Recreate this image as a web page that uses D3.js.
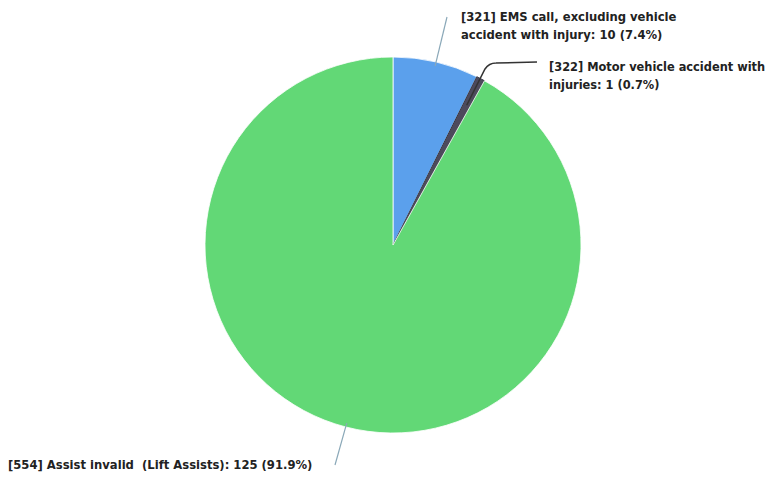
<!DOCTYPE html>
<html>
<head>
<meta charset="utf-8">
<script src="https://cdn.jsdelivr.net/npm/d3@7"></script>
<style>
  html, body { margin: 0; padding: 0; background: #ffffff; }
  svg { display: block; }
  text { font-family: "DejaVu Sans", sans-serif; font-weight: bold; font-size: 11.6px; fill: #222; white-space: pre; }
  text.tight { font-size: 11.4px; }
</style>
</head>
<body>
<svg id="chart" width="770" height="482"></svg>
<script>
const codes = ["[321]", "[322]", "[554]"];
const names = ["EMS call, excluding vehicle accident with injury", "Motor vehicle accident with injuries", "Assist invalid  (Lift Assists)"];
const values = [10, 1, 125];
const colors = ["#5ba0ec", "#4d4a5c", "#62d876"];
const lineColors = ["#8aa8b8", "#333333", "#8aa8b8"];

const svg = d3.select("#chart");
const cx = 393, cy = 245, r = 188;
const data = values.map((v, i) => ({ code: codes[i], name: names[i], value: v, i }));

const pie = d3.pie().value(d => d.value).sort(null);
const arcs = pie(data);
const arc = d3.arc().innerRadius(0).outerRadius(r);

const g = svg.append("g").attr("transform", `translate(${cx},${cy})`);
g.selectAll("path.slice").data(arcs).enter().append("path")
  .attr("class", "slice")
  .attr("d", arc)
  .attr("fill", d => colors[d.data.i])
  .attr("stroke", d => d.data.i === 1 ? "#3a3a48" : "#ffffff")
  .attr("stroke-width", d => d.data.i === 1 ? 1 : 0.8);

const labelLines = [
  ["[321] EMS call, excluding vehicle", "accident with injury: 10 (7.4%)"],
  ["[322] Motor vehicle accident with", "injuries: 1 (0.7%)"],
  ["[554] Assist invalid  (Lift Assists): 125 (91.9%)"]
];
const labelPos = [[461, 21], [549, 71], [8, 469]];

function pt(a, rad) { return [Math.sin(a) * rad, -Math.cos(a) * rad]; }

arcs.forEach((d, k) => {
  const mid = (d.startAngle + d.endAngle) / 2;
  const p0 = pt(mid, r - (k === 1 ? 30 : 4));
  const path = d3.path();
  path.moveTo(p0[0], p0[1]);
  if (k === 0) {
    path.lineTo(447 - cx, 17 - cy);
  } else if (k === 1) {
    path.lineTo(485 - cx, 69 - cy);
    path.quadraticCurveTo(489 - cx, 63 - cy, 496 - cx, 63 - cy);
    path.lineTo(537 - cx, 62 - cy);
  } else {
    path.lineTo(335 - cx, 465 - cy);
  }
  g.append("path").attr("d", path.toString())
    .attr("fill", "none")
    .attr("stroke", lineColors[k])
    .attr("stroke-width", k === 1 ? 1.5 : 1.2);
});

labelLines.forEach((lines, k) => {
  const t = svg.append("text").attr("x", labelPos[k][0]).attr("y", labelPos[k][1])
    .attr("class", k === 1 ? "tight" : null);
  lines.forEach((ln, j) => {
    t.append("tspan").attr("x", labelPos[k][0]).attr("dy", j === 0 ? 0 : 18).text(ln);
  });
});
</script>
</body>
</html>
